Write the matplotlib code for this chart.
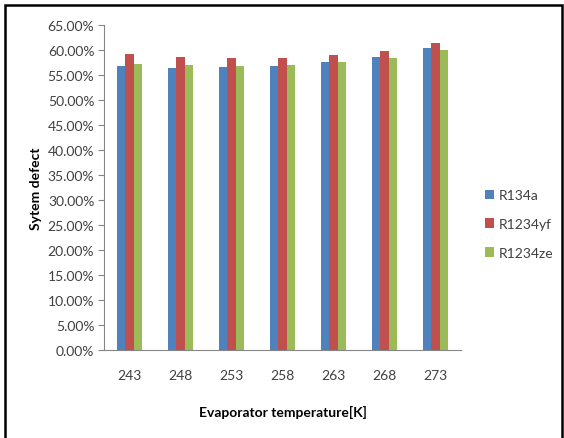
import matplotlib
matplotlib.use("Agg")
import matplotlib.pyplot as plt
import numpy as np
from matplotlib.patches import Rectangle
from matplotlib.ticker import MultipleLocator, FuncFormatter

categories = ["243", "248", "253", "258", "263", "268", "273"]
r134a = [56.8, 56.5, 56.7, 56.8, 57.6, 58.7, 60.4]
r1234yf = [59.2, 58.7, 58.5, 58.5, 59.0, 59.8, 61.4]
r1234ze = [57.3, 57.0, 56.8, 57.0, 57.6, 58.5, 60.1]
series_names = ["R134a", "R1234yf", "R1234ze"]
colors = ["#4F81BD", "#C0504D", "#9BBB59"]

plt.rcParams['font.family'] = ['Lato', 'DejaVu Sans']

W, H = 564, 439
fig = plt.figure(figsize=(W / 100, H / 100), dpi=100)
ax = fig.add_axes([104 / W, 1 - 351 / H, (461 - 104) / W, (351 - 26) / H])

x = np.arange(len(categories))
bw = 0.167
for i, (vals, name, c) in enumerate(zip([r134a, r1234yf, r1234ze], series_names, colors)):
    ax.bar(x + (i - 1) * bw, vals, width=bw, color=c, label=name, zorder=2)

ax.set_xlim(-0.5, len(categories) - 0.5)
ax.set_ylim(0, 65)
ax.yaxis.set_major_locator(MultipleLocator(5))
ax.yaxis.set_major_formatter(FuncFormatter(lambda v, p: f"{v:.2f}%"))
ax.set_xticks(x)
ax.set_xticklabels(categories)

for s in ["top", "right"]:
    ax.spines[s].set_visible(False)
for s in ["left", "bottom"]:
    ax.spines[s].set_color("#868686")
    ax.spines[s].set_linewidth(0.8)

ax.tick_params(axis="y", length=4, color="#868686", labelsize=10, labelcolor="#404040", pad=3)
ax.tick_params(axis="x", length=0, labelsize=10, labelcolor="#404040", pad=14)

ax.set_ylabel("Sytem defect", fontsize=10, fontweight="bold", labelpad=4)
ax.set_xlabel("Evaporator temperature[K]", fontsize=10, fontweight="bold", labelpad=17)

leg = ax.legend(loc="center left", bbox_to_anchor=(472 / W, 1 - 225 / H), bbox_transform=fig.transFigure,
                frameon=False, fontsize=10, handlelength=0.7, handleheight=0.7,
                handletextpad=0.3, labelspacing=1.2)
for t in leg.get_texts():
    t.set_color("#404040")

fig.patches.append(Rectangle((5 / W, -0.02), (561.5 - 5) / W, 1.02 - 6 / H,
                             transform=fig.transFigure, fill=False, edgecolor="black",
                             linewidth=1.8, zorder=10))

fig.savefig("out.png", dpi=100)
